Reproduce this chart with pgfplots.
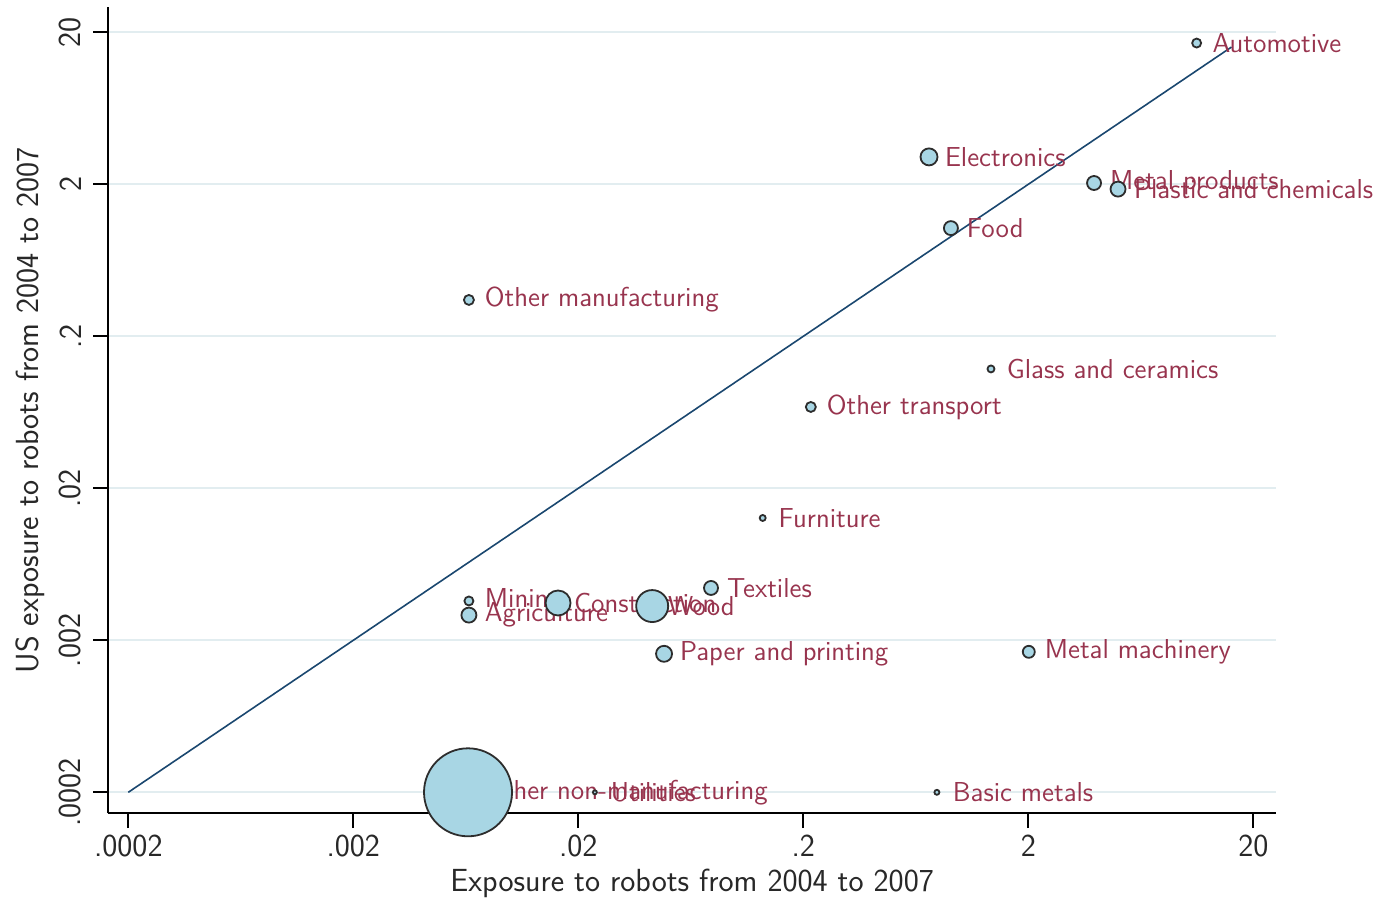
\documentclass[border=0pt]{standalone}
\usepackage{pgfplots}
\pgfplotsset{compat=1.18}
\usepackage{pgfplotstable}
\definecolor{mkfill}{RGB}{168,214,228}
\definecolor{mkdraw}{RGB}{45,45,45}
\definecolor{lblc}{RGB}{152,52,78}
\definecolor{navyc}{RGB}{26,71,111}
\definecolor{gridc}{RGB}{226,237,240}
\definecolor{txtc}{RGB}{40,40,40}

\pgfplotsset{
  layers/mylayers/.define layer set={axis background,axis grid,main,axis ticks,axis lines,axis tick labels,axis descriptions,axis foreground}{},
}

\pgfplotstableread[col sep=comma]{
label,x,y,r
Automotive,11.2,17.0,4.5
Electronics,0.724,3.03,8.5
Metal products,3.92,2.04,7
Plastic and chemicals,5.01,1.86,7.5
Food,0.906,1.03,7
Other manufacturing,0.00653,0.347,5
Glass and ceramics,1.365,0.122,3.5
Other transport,0.216,0.0686,5
Furniture,0.132,0.01276,3
Textiles,0.0778,0.00442,7
Mining,0.00653,0.00363,4.5
Agriculture,0.00653,0.00293,7.5
Construction,0.01626,0.00352,12.5
Wood,0.0426,0.00336,16
Paper and printing,0.0481,0.00163,8
Metal machinery,2.01,0.00168,6
Other non-manufacturing,0.00647,0.0002,44
Utilities,0.0237,0.0002,2
Basic metals,0.785,0.0002,2.5
}\data

\pgfplotstableread{
x y
0.0002 0.0002
16 16
}\diag

\begin{document}
\begin{tikzpicture}
\begin{axis}[
  set layers=mylayers,
  at={(54.15pt,42.85pt)}, anchor=south west,
  scale only axis, width=583.85pt, height=403pt,
  xmode=log, ymode=log,
  xmin=1.63e-4, xmax=25.23, ymin=1.4553e-4, ymax=29.22,
  axis x line*=bottom, axis y line*=left,
  axis line style={line width=1.1pt, black, -},
  xtick={0.0002,0.002,0.02,0.2,2,20},
  xticklabels={.0002,.002,.02,.2,2,20},
  ytick={0.0002,0.002,0.02,0.2,2,20},
  yticklabels={.0002,.002,.02,.2,2,20},
  xminorticks=false, yminorticks=false,
  tick align=outside, major tick length=7.5pt,
  tick style={line width=1pt, black},
  ymajorgrids, grid style={gridc, line width=1pt},
  tick label style={font=\fontsize{16}{19}\selectfont\sffamily, text=txtc},
  yticklabel style={rotate=90, anchor=south, yshift=2.5pt},
  every axis x label/.style={at={(axis description cs:0.5,0)}, anchor=center, yshift=-35pt, font=\fontsize{16}{19}\selectfont\sffamily, text=txtc},
  every axis y label/.style={at={(axis description cs:0,0.5)}, rotate=90, anchor=center, yshift=39.2pt, font=\fontsize{16}{19}\selectfont\sffamily, text=txtc},
  xlabel={Exposure to robots from 2004 to 2007},
  ylabel={US exposure to robots from 2004 to 2007},
  clip=false,
]
\addplot[navyc, line width=0.8pt, mark=none] table[x=x,y=y]{\diag};
\addplot[draw=none, mark=none, point meta=explicit symbolic,
  nodes near coords,
  every node near coord/.style={anchor=west, xshift=7.8pt, inner sep=0pt, font=\fontsize{13.7}{16}\selectfont\sffamily, text=lblc}]
  table[x=x,y=y,meta=label]{\data};
\addplot[scatter, only marks, mark=*, point meta=explicit,
  scatter/use mapped color={draw=mkdraw, fill=mkfill},
  visualization depends on={\thisrow{r}/2 \as \rad},
  scatter/@pre marker code/.append style={/tikz/mark size=\rad},
  mark options={line width=0.9pt}]
  table[x=x,y=y,meta=r]{\data};
\end{axis}
\pgfresetboundingbox
\path[use as bounding box] (0,0) rectangle (688.5pt,449.5pt);
\end{tikzpicture}
\end{document}
